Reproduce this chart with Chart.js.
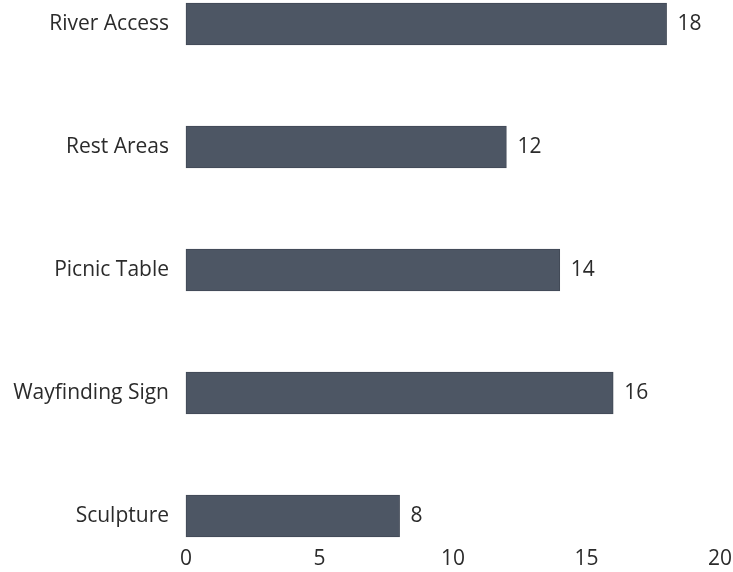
<!DOCTYPE html>
<html>
<head>
<meta charset="utf-8">
<script src="https://cdn.jsdelivr.net/npm/chart.js@4.4.1/dist/chart.umd.min.js"></script>
<style>
  html, body { margin: 0; padding: 0; background: #fff; overflow: hidden; }
  #chartContainer { position: relative; width: 733px; height: 572px; }
</style>
</head>
<body>
<div id="chartContainer"><canvas id="amenityChart"></canvas></div>
<script>
const categories = ["River Access", "Rest Areas", "Picnic Table", "Wayfinding Sign", "Sculpture"];
const counts = [18, 12, 14, 16, 8];
const xTicks = [0, 5, 10, 15, 20];

const barColor = "#4d5664";
const textColor = "#2b2b2b";
const fontFamily = "'Open Sans'";

// value next to each bar end
const valueLabels = {
  id: "valueLabels",
  afterDatasetsDraw(chart) {
    const ctx = chart.ctx;
    const meta = chart.getDatasetMeta(0);
    ctx.save();
    ctx.font = "21px " + fontFamily;
    ctx.fillStyle = textColor;
    ctx.textAlign = "left";
    ctx.textBaseline = "middle";
    meta.data.forEach((bar, i) => {
      ctx.fillText(String(counts[i]), bar.x + 11, bar.y);
    });
    ctx.restore();
  }
};

const ctx = document.getElementById("amenityChart").getContext("2d");
new Chart(ctx, {
  type: "bar",
  data: {
    labels: categories,
    datasets: [{
      data: counts,
      backgroundColor: barColor,
      borderColor: "#414956",
      borderWidth: 1,
      borderSkipped: false,
      barThickness: 42,
      clip: false
    }]
  },
  options: {
    indexAxis: "y",
    responsive: true,
    maintainAspectRatio: false,
    animation: false,
    layout: { padding: { top: 24, right: 13, bottom: 3, left: 10 } },
    plugins: {
      legend: { display: false },
      tooltip: { enabled: false }
    },
    scales: {
      x: {
        min: 0,
        max: 20,
        afterBuildTicks: (axis) => { axis.ticks = xTicks.map(v => ({ value: v })); },
        afterFit: (axis) => { axis.height = 53; axis.paddingLeft = 0; axis.paddingRight = 0; axis.paddingBottom = 0; },
        grid: { display: false, drawTicks: false },
        border: { display: false },
        ticks: { color: textColor, font: { family: fontFamily, size: 21 }, padding: 30 }
      },
      y: {
        offset: false,
        afterFit: (axis) => { axis.width = 176; axis.paddingTop = 0; axis.paddingBottom = 0; },
        grid: { display: false, drawTicks: false },
        border: { display: false },
        ticks: { color: textColor, font: { family: fontFamily, size: 21 }, padding: 17 }
      }
    }
  },
  plugins: [valueLabels]
});
</script>
</body>
</html>
